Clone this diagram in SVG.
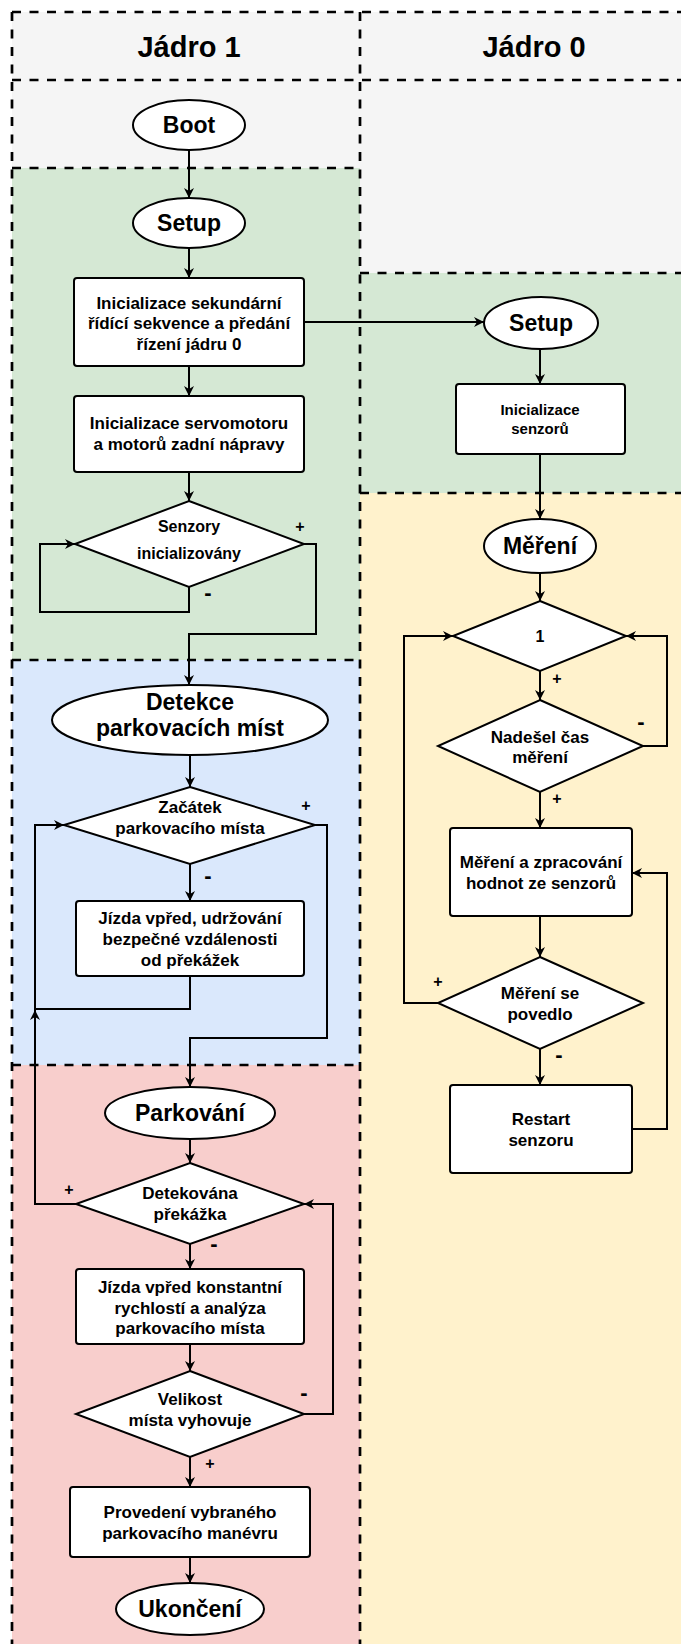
<svg xmlns="http://www.w3.org/2000/svg" width="681" height="1644" viewBox="0 0 681 1644">
<defs>
<style>
.lane{stroke:none}
.dash{fill:none;stroke:#000;stroke-width:2.7;stroke-dasharray:9 8.5}
.shape{fill:#fff;stroke:#000;stroke-width:2}
.edge{fill:none;stroke:#000;stroke-width:2}
text{font-family:"Liberation Sans",Arial,sans-serif;font-weight:bold;fill:#000;text-anchor:middle}
.hdr{font-size:29px}
.term{font-size:23px}
.t{font-size:17px}
.ts{font-size:15px}
.lp{font-size:16px}
.lm{font-size:22px}
</style>
<marker id="arr" markerUnits="userSpaceOnUse" viewBox="0 0 10 10" refX="10" refY="5" markerWidth="11" markerHeight="10" orient="auto">
<path d="M0,0 L10,5 L0,10 L3,5 Z" fill="#000"/>
</marker>
</defs>

<g id="lanes">
<rect class="lane" x="12" y="12" width="680" height="68" fill="#f5f5f5"/>
<rect class="lane" x="12" y="80" width="348" height="88" fill="#f5f5f5"/>
<rect class="lane" x="12" y="168" width="348" height="492" fill="#d5e8d4"/>
<rect class="lane" x="12" y="660" width="348" height="405" fill="#dae8fc"/>
<rect class="lane" x="12" y="1065" width="348" height="590" fill="#f8cecc"/>
<rect class="lane" x="360" y="80" width="332" height="193" fill="#f5f5f5"/>
<rect class="lane" x="360" y="273" width="332" height="220" fill="#d5e8d4"/>
<rect class="lane" x="360" y="493" width="332" height="1160" fill="#fff2cc"/>
<path class="dash" d="M12,12 H692 M12,80 H692 M12,12 V1650 M360,12 V1650 M12,168 H360 M12,660 H360 M12,1065 H360 M360,273 H692 M360,493 H692"/>
<text class="hdr" x="189" y="57">Jádro 1</text>
<text class="hdr" x="534" y="57">Jádro 0</text>
</g>

<g id="connectors">
<path class="edge" d="M189,150 V198" marker-end="url(#arr)"/>
<path class="edge" d="M189,248 V278" marker-end="url(#arr)"/>
<path class="edge" d="M304,322 H484" marker-end="url(#arr)"/>
<path class="edge" d="M189,366 V396" marker-end="url(#arr)"/>
<path class="edge" d="M189,472 V501" marker-end="url(#arr)"/>
<path class="edge" d="M189,587 V612 H40 V544 H75" marker-end="url(#arr)"/>
<path class="edge" d="M304,544 H316 V634 H189 V685" marker-end="url(#arr)"/>
<path class="edge" d="M540,349 V384" marker-end="url(#arr)"/>
<path class="edge" d="M540,454 V519" marker-end="url(#arr)"/>
<path class="edge" d="M540,573 V601" marker-end="url(#arr)"/>
<path class="edge" d="M540,671 V700" marker-end="url(#arr)"/>
<path class="edge" d="M643,746 H667 V636 H626" marker-end="url(#arr)"/>
<path class="edge" d="M540,792 V828" marker-end="url(#arr)"/>
<path class="edge" d="M540,916 V957" marker-end="url(#arr)"/>
<path class="edge" d="M438,1003 H404 V636 H453" marker-end="url(#arr)"/>
<path class="edge" d="M540,1049 V1085" marker-end="url(#arr)"/>
<path class="edge" d="M632,1129 H667 V873 H632" marker-end="url(#arr)"/>
<path class="edge" d="M190,755 V787" marker-end="url(#arr)"/>
<path class="edge" d="M190,864 V901" marker-end="url(#arr)"/>
<path class="edge" d="M190,976 V1009 H35 V825 H64" marker-end="url(#arr)"/>
<path class="edge" d="M315,825 H327 V1038 H190 V1087" marker-end="url(#arr)"/>
<path class="edge" d="M190,1139 V1163" marker-end="url(#arr)"/>
<path class="edge" d="M76,1204 H35 V1010" marker-end="url(#arr)"/>
<path class="edge" d="M190,1244 V1269" marker-end="url(#arr)"/>
<path class="edge" d="M190,1344 V1371" marker-end="url(#arr)"/>
<path class="edge" d="M304,1414 H333 V1204 H304" marker-end="url(#arr)"/>
<path class="edge" d="M190,1457 V1487" marker-end="url(#arr)"/>
<path class="edge" d="M190,1557 V1583" marker-end="url(#arr)"/>
<text class="lp" x="300" y="532">+</text>
<text class="lm" x="208" y="600">-</text>
<text class="lp" x="306" y="811">+</text>
<text class="lm" x="208" y="883">-</text>
<text class="lp" x="69" y="1195">+</text>
<text class="lm" x="214" y="1251">-</text>
<text class="lm" x="304" y="1400">-</text>
<text class="lp" x="210" y="1469">+</text>
<text class="lp" x="557" y="684">+</text>
<text class="lm" x="641" y="729">-</text>
<text class="lp" x="557" y="804">+</text>
<text class="lp" x="438" y="987">+</text>
<text class="lm" x="559" y="1062">-</text>
</g>

<g id="boot"><ellipse class="shape" cx="189" cy="125" rx="56" ry="25"/><text class="term" x="189" y="133">Boot</text></g>
<g id="setup1"><ellipse class="shape" cx="189" cy="223" rx="56" ry="25"/><text class="term" x="189" y="231">Setup</text></g>
<g id="init-sek"><rect class="shape" x="74" y="278" width="230" height="88" rx="3"/>
<text class="t" x="189" y="309">Inicializace sekundární</text><text class="t" x="189" y="329">řídící sekvence a předání</text><text class="t" x="189" y="350">řízení jádru 0</text></g>
<g id="init-servo"><rect class="shape" x="74" y="396" width="230" height="76" rx="3"/>
<text class="t" x="189" y="429">Inicializace servomotoru</text><text class="t" x="189" y="450">a motorů zadní nápravy</text></g>
<g id="senzory-init"><polygon class="shape" points="189,501 304,544 189,587 75,544"/>
<text class="lp" x="189" y="532">Senzory</text><text class="lp" x="189" y="559">inicializovány</text></g>

<g id="detekce"><ellipse class="shape" cx="190" cy="720" rx="138" ry="35"/>
<text class="term" x="190" y="710">Detekce</text><text class="term" x="190" y="736">parkovacích míst</text></g>
<g id="zacatek"><polygon class="shape" points="190,787 315,825 190,864 64,825"/>
<text class="t" x="190" y="813">Začátek</text><text class="t" x="190" y="834">parkovacího místa</text></g>
<g id="jizda1"><rect class="shape" x="76" y="901" width="228" height="75" rx="3"/>
<text class="t" x="190" y="924">Jízda vpřed, udržování</text><text class="t" x="190" y="945">bezpečné vzdálenosti</text><text class="t" x="190" y="966">od překážek</text></g>

<g id="parkovani"><ellipse class="shape" cx="190" cy="1113" rx="85" ry="26"/><text class="term" x="190" y="1121">Parkování</text></g>
<g id="detekovana"><polygon class="shape" points="190,1163 304,1204 190,1244 76,1204"/>
<text class="t" x="190" y="1199">Detekována</text><text class="t" x="190" y="1220">překážka</text></g>
<g id="jizda2"><rect class="shape" x="76" y="1269" width="228" height="75" rx="3"/>
<text class="t" x="190" y="1293">Jízda vpřed konstantní</text><text class="t" x="190" y="1314">rychlostí a analýza</text><text class="t" x="190" y="1334">parkovacího místa</text></g>
<g id="velikost"><polygon class="shape" points="190,1371 304,1414 190,1457 76,1414"/>
<text class="t" x="190" y="1405">Velikost</text><text class="t" x="190" y="1426">místa vyhovuje</text></g>
<g id="provedeni"><rect class="shape" x="70" y="1487" width="240" height="70" rx="3"/>
<text class="t" x="190" y="1518">Provedení vybraného</text><text class="t" x="190" y="1539">parkovacího manévru</text></g>
<g id="ukonceni"><ellipse class="shape" cx="190" cy="1609" rx="74" ry="26"/><text class="term" x="190" y="1617">Ukončení</text></g>

<g id="setup0"><ellipse class="shape" cx="541" cy="323" rx="57" ry="26"/><text class="term" x="541" y="331">Setup</text></g>
<g id="init-senzoru"><rect class="shape" x="456" y="384" width="169" height="70" rx="3"/>
<text class="ts" x="540" y="415">Inicializace</text><text class="ts" x="540" y="434">senzorů</text></g>
<g id="mereni"><ellipse class="shape" cx="540" cy="546" rx="56" ry="27"/><text class="term" x="540" y="554">Měření</text></g>
<g id="jedna"><polygon class="shape" points="540,601 626,636 540,671 453,636"/><text class="lp" x="540" y="642">1</text></g>
<g id="nadesel"><polygon class="shape" points="540,700 643,746 540,792 438,746"/>
<text class="t" x="540" y="743">Nadešel čas</text><text class="t" x="540" y="763">měření</text></g>
<g id="zpracovani"><rect class="shape" x="450" y="828" width="182" height="88" rx="3"/>
<text class="t" x="541" y="868">Měření a zpracování</text><text class="t" x="541" y="889">hodnot ze senzorů</text></g>
<g id="povedlo"><polygon class="shape" points="540,957 643,1003 540,1049 438,1003"/>
<text class="t" x="540" y="999">Měření se</text><text class="t" x="540" y="1020">povedlo</text></g>
<g id="restart"><rect class="shape" x="450" y="1085" width="182" height="88" rx="3"/>
<text class="t" x="541" y="1125">Restart</text><text class="t" x="541" y="1146">senzoru</text></g>
</svg>
